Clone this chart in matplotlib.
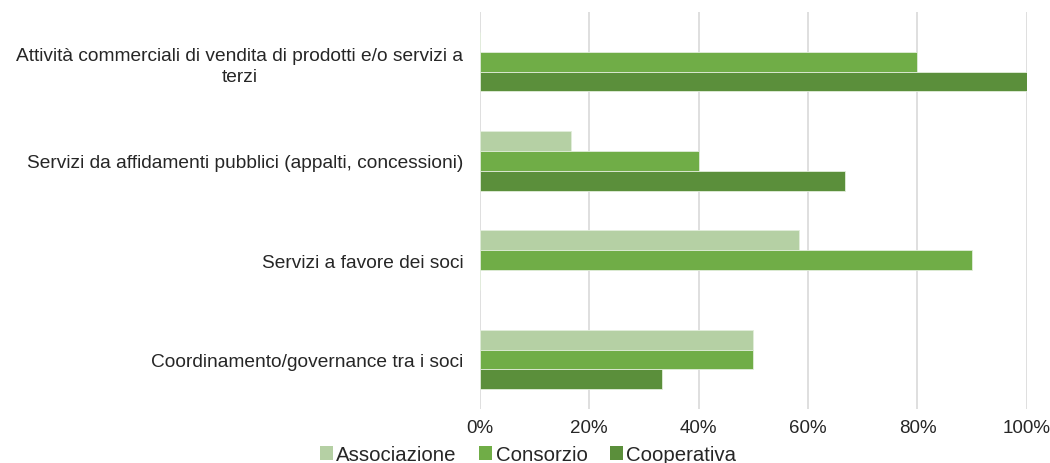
import matplotlib
matplotlib.use("Agg")
import matplotlib.pyplot as plt
import numpy as np
from matplotlib.ticker import PercentFormatter
from matplotlib.patches import Patch

plt.rcParams['font.family'] = ['Liberation Sans', 'DejaVu Sans']

categories = [
    "Attività commerciali di vendita di prodotti e/o servizi a\nterzi",
    "Servizi da affidamenti pubblici (appalti, concessioni)",
    "Servizi a favore dei soci",
    "Coordinamento/governance tra i soci",
]
series_names = ["Associazione", "Consorzio", "Cooperativa"]
associazione = [0.0, 16.7, 58.3, 50.0]
consorzio = [80.0, 40.0, 90.0, 50.0]
cooperativa = [100.0, 66.7, 0.0, 33.3]
x_ticks = [0, 20, 40, 60, 80, 100]

colors = ["#b5d0a4", "#70ad47", "#5b8f3b"]
series = [associazione, consorzio, cooperativa]

fig = plt.figure(figsize=(10.5, 4.64), dpi=100)
ax = fig.add_axes([0.457, 0.116, 0.521, 0.856])

n = len(categories)
ypos = np.arange(n)
bar_h = 0.2
for i, (vals, col) in enumerate(zip(series, colors)):
    offs = (i - 1) * bar_h
    ax.barh(ypos + offs, vals, height=bar_h, color=col,
            edgecolor="#e2eedb", linewidth=0.6, zorder=3)

ax.set_ylim(n - 0.5, -0.5)
ax.set_xlim(0, 100)
ax.set_xticks(x_ticks)
ax.xaxis.set_major_formatter(PercentFormatter(decimals=0))
ax.set_yticks(ypos)
ax.set_yticklabels(categories, multialignment="center", linespacing=1.3)

ax.grid(axis="x", color="#d9d9d9", linewidth=1.2, zorder=0)
ax.grid(axis="y", visible=False)
for s in ax.spines.values():
    s.set_visible(False)
ax.tick_params(axis="both", length=0, colors="#262626")
ax.tick_params(axis="y", pad=12, labelsize=13.8)
ax.tick_params(axis="x", pad=7, labelsize=13.5)

handles = [Patch(facecolor=c, edgecolor="none") for c in colors]
fig.legend(handles, series_names, loc="center", bbox_to_anchor=(0.503, 0.018),
           ncol=3, frameon=False, fontsize=14.7, handlelength=0.64, handleheight=0.64,
           handletextpad=0.15, columnspacing=1.1, labelcolor="#262626")

fig.savefig("out.png", dpi=100, facecolor="white")
